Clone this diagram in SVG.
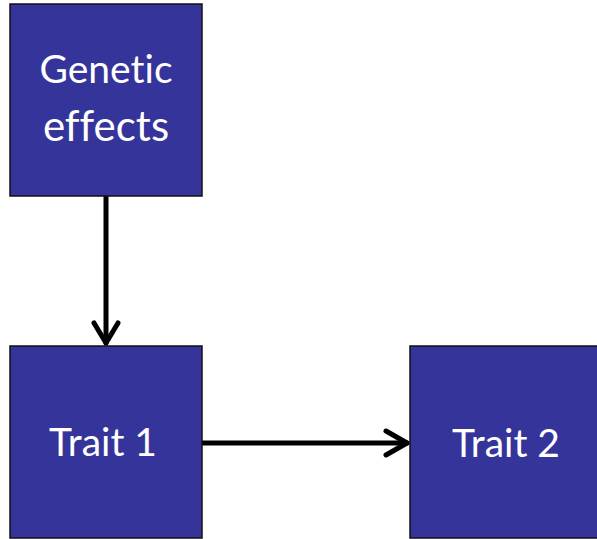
<svg xmlns="http://www.w3.org/2000/svg" width="597" height="539" viewBox="0 0 597 539">
  <style>
    .box { fill: #35349a; stroke: #111; stroke-width: 1.5; }
    .label { fill: #ffffff; font-family: Lato, "Open Sans", "Liberation Sans", sans-serif; font-size: 39px; text-anchor: middle; font-variant-ligatures: none; }
    .big { font-size: 42px; }
    .edge { stroke: #000; stroke-width: 5; fill: none; stroke-linecap: round; stroke-linejoin: round; }
  </style>
  <rect width="597" height="539" fill="#ffffff"/>
  <g id="connectors">
    <path class="edge" d="M106 196 V343"/>
    <path class="edge" d="M94 323 L106 343 L118 323"/>
    <path class="edge" d="M202 443 H407"/>
    <path class="edge" d="M386 431 L407 443 L386 455"/>
  </g>
  <g id="genetic-effects">
    <rect class="box" x="10" y="4" width="192" height="192"/>
    <text class="label" x="106" y="83">Genetic</text>
    <text class="label big" x="106" y="141">effects</text>
  </g>
  <g id="trait-1">
    <rect class="box" x="10" y="346" width="192" height="192"/>
    <text class="label" x="103" y="456">Trait 1</text>
  </g>
  <g id="trait-2">
    <rect class="box" x="410" y="346" width="192" height="192"/>
    <text class="label" x="506" y="457">Trait 2</text>
  </g>
</svg>
